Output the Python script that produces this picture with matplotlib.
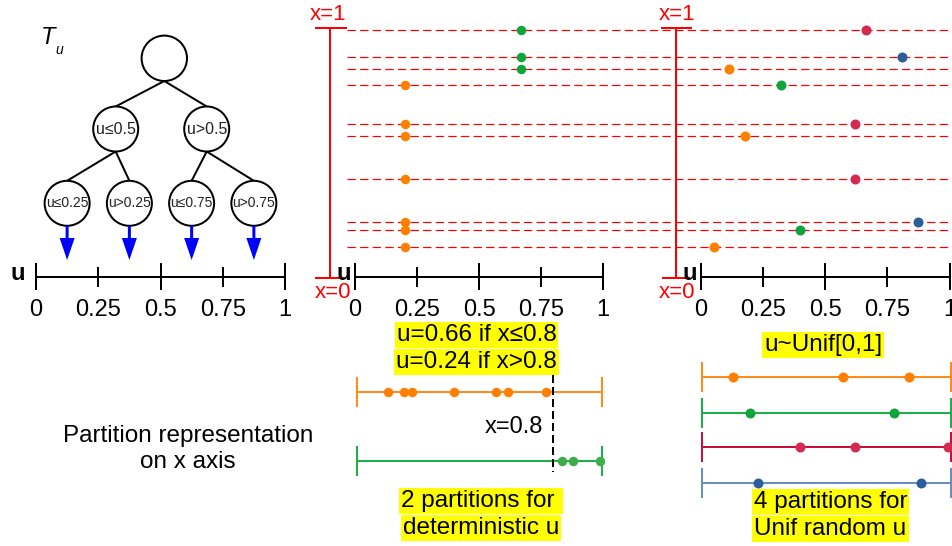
import matplotlib
matplotlib.use('Agg')
import matplotlib.pyplot as plt
from matplotlib.transforms import blended_transform_factory as blend
from matplotlib.patches import Circle, FancyArrow

plt.rcParams['font.family'] = ['Liberation Sans', 'DejaVu Sans']

# ---------------- data ----------------
x_samples = [0.991, 0.882, 0.834, 0.771, 0.615, 0.568, 0.395, 0.225, 0.193, 0.126]
x_split = 0.8
u_det_low_x = 0.67    # drawn u for samples with x > split
u_det_high_x = 0.20   # drawn u for samples with x <= split
u_random = [0.665, 0.808, 0.114, 0.321, 0.62, 0.177, 0.62, 0.873, 0.399, 0.052]
u_ticks = [0, 0.25, 0.5, 0.75, 1]
u_tick_labels = ['0', '0.25', '0.5', '0.75', '1']
u_bins = [0, 0.25, 0.5, 0.75, 1.0]
leaf_u = [0.125, 0.375, 0.625, 0.875]
level2_labels = ['u≤0.5', 'u>0.5']
level3_labels = ['u≤0.25', 'u>0.25', 'u≤0.75', 'u>0.75']

# ---------------- styles ----------------
C_OR, C_GR, C_RD, C_BL = '#FF8000', '#0FA53A', '#D42A52', '#2C5E9C'
L_OR, L_GR, L_RD, L_BL = '#FF8C1A', '#1DB04A', '#C8103E', '#6A8FBF'
BIN_DOT = [C_OR, C_GR, C_RD, C_BL]
BIN_LINE = [L_OR, L_GR, L_RD, L_BL]
PX = 0.72  # points per pixel at dpi 100

W, H = 952, 546
fig = plt.figure(figsize=(W / 100, H / 100), dpi=100)
ov = fig.add_axes([0, 0, 1, 1])
ov.set_xlim(0, W); ov.set_ylim(H, 0); ov.axis('off')


def px_axes(x0, x1, y_top, y_bot):
    ax = fig.add_axes([x0 / W, 1 - y_bot / H, (x1 - x0) / W, (y_bot - y_top) / H])
    ax.set_xlim(0, 1); ax.set_ylim(0, 1); ax.axis('off'); ax.patch.set_alpha(0)
    return ax


AXIS_Y = 276.7


def u_axis(ax, ulabel_x):
    tr = blend(ax.transData, ov.transData)
    ax.plot([0, 1], [AXIS_Y, AXIS_Y], color='k', lw=2 * PX, transform=tr,
            clip_on=False, solid_capstyle='butt')
    for t, lab in zip(u_ticks, u_tick_labels):
        h = 13.3 if t in (0, 0.5, 1) else 10
        ax.plot([t, t], [AXIS_Y - h, AXIS_Y + h], color='k', lw=2 * PX,
                transform=tr, clip_on=False, solid_capstyle='butt')
        ax.text(t, 310, lab, transform=tr, ha='center', va='center', fontsize=17)
    ov.text(ulabel_x, 274, 'u', fontsize=17, fontweight='bold', ha='center',
            va='center', zorder=5)


# ---------------- left: tree ----------------
axl = px_axes(36, 285, 27.7, 278.3)
u_axis(axl, 17.5)


def upx(u):
    return 36 + u * (285 - 36)


root = (164.3, 58.3, 22.7)
l2 = [(115.7, 129.0), (206.7, 129.0)]
l3 = [(upx(u), 203.3) for u in leaf_u]
R = 22.5
for (cx, cy) in l2:
    ov.plot([root[0], cx], [root[1] + root[2], cy - R], color='k', lw=2 * PX)
for i, (cx, cy) in enumerate(l3):
    px_, py_ = l2[i // 2]
    ov.plot([px_, cx], [py_ + R, cy - R], color='k', lw=2 * PX)
ov.add_patch(Circle(root[:2], root[2], fc='white', ec='k', lw=2 * PX, zorder=3))
for (cx, cy), lab in zip(l2, level2_labels):
    ov.add_patch(Circle((cx, cy), R, fc='white', ec='k', lw=2 * PX, zorder=3))
    ov.text(cx, cy, lab, ha='center', va='center', fontsize=11.5, zorder=4, color='#222222')
for (cx, cy), lab in zip(l3, level3_labels):
    ov.add_patch(Circle((cx, cy), R, fc='white', ec='k', lw=2 * PX, zorder=3))
    ov.text(cx, cy, lab, ha='center', va='center', fontsize=10, zorder=4, color='#222222')
    ov.add_patch(FancyArrow(cx, cy + R, 0, 260 - (cy + R), width=3, head_width=15,
                            head_length=22, length_includes_head=True,
                            color='#0000FF', lw=0, zorder=3))
ov.text(48, 37, 'T', fontsize=17, style='italic', ha='center', va='center')
ov.text(59.5, 50, 'u', fontsize=10, style='italic', ha='center', va='center')

# ---------------- top middle / right panels ----------------
axm = px_axes(355, 603, 27.7, 278.3)
axr = px_axes(701, 949.5, 27.7, 278.3)
u_axis(axm, 343.3)
u_axis(axr, 690)

trd = blend(ov.transData, axm.transData)
for xv in x_samples:
    ov.plot([346.7, W], [xv, xv], color='#FF0000', lw=1.2 * PX, dashes=(7, 3.5),
            transform=trd, zorder=1)

for bar_x, cap_top, cap_bot, lx1, lx0 in [(330, (315, 346.7), (315, 346.0), 327.8, 332.7),
                                          (675.7, (660.7, 691.7), (661.7, 690.0), 677.3, 677.3)]:
    ov.plot([bar_x, bar_x], [0, 1], color='#FF0000', lw=2 * PX, transform=trd, zorder=2)
    ov.plot(cap_top, [1, 1], color='#FF0000', lw=2 * PX, transform=trd, zorder=2,
            solid_capstyle='butt')
    ov.plot(cap_bot, [0, 0], color='#FF0000', lw=2 * PX, transform=trd, zorder=2,
            solid_capstyle='butt')
    ov.text(lx1, 14, 'x=1', color='#FF0000', fontsize=16, ha='center', va='center')
    ov.text(lx0, 293, 'x=0', color='#FF0000', fontsize=16, ha='center', va='center', zorder=4)

u_det = [u_det_low_x if xv > x_split else u_det_high_x for xv in x_samples]
for u, xv in zip(u_det, x_samples):
    col = C_GR if xv > x_split else C_OR
    axm.plot(u, xv, 'o', ms=9.5 * PX, color=col, mew=0, clip_on=False)


def u_bin(u):
    for k in range(4):
        if u_bins[k] <= u < u_bins[k + 1]:
            return k
    return 3


for u, xv in zip(u_random, x_samples):
    axr.plot(u, xv, 'o', ms=10 * PX, color=BIN_DOT[u_bin(u)], mew=0, clip_on=False)

# ---------------- bottom middle: 2 partitions ----------------
axbm = px_axes(356.7, 602.3, 300, 546)
trb = blend(axbm.transData, ov.transData)
rows_m = [(391.7, L_OR, C_OR, [xv for xv in x_samples if xv <= x_split]),
          (460.7, L_GR, '#3DAE4A', [xv for xv in x_samples if xv > x_split])]
for y, lc, dc, pts in rows_m:
    axbm.plot([0, 1], [y, y], color=lc, lw=2 * PX, transform=trb, clip_on=False)
    for e in (0, 1):
        axbm.plot([e, e], [y - 15, y + 15], color=lc, lw=2 * PX, transform=trb,
                  clip_on=False, solid_capstyle='butt')
    axbm.plot(pts, [y] * len(pts), 'o', ms=9.5 * PX, color=dc, mew=0,
              transform=trb, clip_on=False)
axbm.plot([x_split, x_split], [375, 471.7], color='k', lw=2 * PX, dashes=(4, 2),
          transform=trb, clip_on=False)
ov.text(542.7, 427, 'x=0.8', fontsize=17, ha='right', va='center')

# ---------------- bottom right: 4 partitions ----------------
axbr = px_axes(701.7, 950.5, 300, 546)
trr = blend(axbr.transData, ov.transData)
rows_r = [377.3, 412.7, 447.3, 483.0]
for k, y in enumerate(rows_r):
    pts = [xv for u, xv in zip(u_random, x_samples) if u_bin(u) == k]
    axbr.plot([0, 1], [y, y], color=BIN_LINE[k], lw=2 * PX, transform=trr, clip_on=False)
    for e in (0, 1):
        axbr.plot([e, e], [y - 15, y + 15], color=BIN_LINE[k], lw=2 * PX, transform=trr,
                  clip_on=False, solid_capstyle='butt')
    axbr.plot(pts, [y] * len(pts), 'o', ms=10 * PX, color=BIN_DOT[k], mew=0,
              transform=trr, clip_on=False)

# ---------------- texts ----------------
def ytext(x, y, s):
    ov.text(x, y, s, ha='center', va='center', fontsize=17.5, zorder=6,
            bbox=dict(boxstyle='square,pad=0.08', fc='#FFFF00', ec='none'))


ytext(476.5, 335, 'u=0.66 if x≤0.8')
ytext(476.5, 362, 'u=0.24 if x>0.8')
ytext(481, 501, '2 partitions for ')
ytext(481, 528, 'deterministic u')
ytext(823, 345, 'u~Unif[0,1]')
ytext(830.5, 502, '4 partitions for')
ytext(830.5, 529, 'Unif random u')
ov.text(188, 436, 'Partition representation', fontsize=17.5, ha='center', va='center')
ov.text(188, 462, 'on x axis', fontsize=17.5, ha='center', va='center')

fig.savefig('out.png', dpi=100)
